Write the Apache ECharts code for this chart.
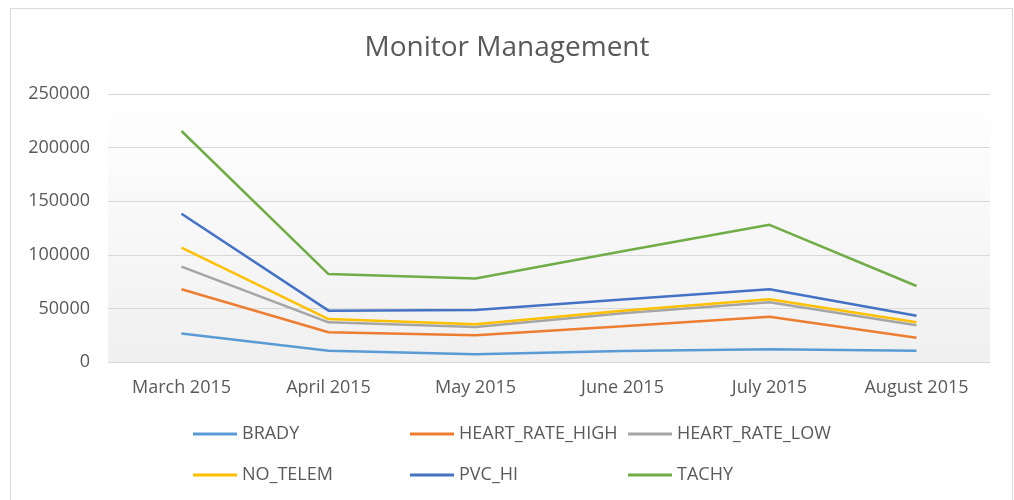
<!DOCTYPE html>
<html>
<head>
<meta charset="utf-8">
<script src="https://cdn.jsdelivr.net/npm/echarts@6/dist/echarts.min.js"></script>
<style>
html,body{margin:0;padding:0;background:#fff;}
#c{width:1014px;height:500px;}
</style>
</head>
<body>
<div id="c"></div>
<script>
const categories = ['March 2015','April 2015','May 2015','June 2015','July 2015','August 2015'];
const yTicks = [0, 50000, 100000, 150000, 200000, 250000];
const BRADY = [26500, 10600, 7300, 10200, 11800, 10400];
const HEART_RATE_HIGH = [67800, 27700, 25000, 33300, 42300, 22700];
const HEART_RATE_LOW = [89000, 37000, 32600, 45500, 55700, 34200];
const NO_TELEM = [106600, 40100, 35200, 47700, 58500, 37000];
const PVC_HI = [138300, 47900, 48500, 58300, 67800, 43200];
const TACHY = [215500, 82000, 77800, 103400, 128000, 70900];

const seriesNames = ['BRADY','HEART_RATE_HIGH','HEART_RATE_LOW','NO_TELEM','PVC_HI','TACHY'];
const seriesData = [BRADY, HEART_RATE_HIGH, HEART_RATE_LOW, NO_TELEM, PVC_HI, TACHY];
const colors = ['#5B9BD5','#ED7D31','#A5A5A5','#FFC000','#4472C4','#70AD47'];

const font = '"Open Sans", sans-serif';
const textColor = '#595959';

const chart = echarts.init(document.getElementById('c'));

function legendCol(names, left) {
  return {
    orient: 'vertical',
    left: left,
    top: 424,
    padding: 0,
    itemGap: 21,
    itemWidth: 44,
    itemHeight: 3,
    icon: 'rect',
    data: names,
    textStyle: {color: textColor, fontSize: 18, lineHeight: 20, fontFamily: font, padding: [0,0,0,0]}
  };
}

chart.setOption({
  animation: false,
  color: colors,
  title: {
    text: 'Monitor Management',
    left: 'center',
    top: 34,
    padding: 0,
    textStyle: {color: textColor, fontSize: 28, fontWeight: 'normal', fontFamily: font}
  },
  graphic: [{
    type: 'rect',
    shape: {x: 10.5, y: 8.5, width: 1002, height: 500},
    style: {fill: 'none', stroke: '#d9d9d9', lineWidth: 1},
    silent: true
  }],
  grid: {
    left: 108, right: 24, top: 94, bottom: 138,
    show: true,
    borderWidth: 0,
    backgroundColor: {
      type: 'linear', x: 0, y: 0, x2: 0, y2: 1,
      colorStops: [{offset: 0, color: '#ffffff'}, {offset: 1, color: '#f0f0f0'}]
    }
  },
  legend: [
    legendCol([seriesNames[0], seriesNames[3]], 193),
    legendCol([seriesNames[1], seriesNames[4]], 410),
    legendCol([seriesNames[2], seriesNames[5]], 628)
  ],
  xAxis: {
    type: 'category',
    data: categories,
    boundaryGap: true,
    axisLine: {show: true, lineStyle: {color: '#d9d9d9', width: 1}},
    axisTick: {show: false},
    axisLabel: {color: textColor, fontSize: 18, fontFamily: font, margin: 17}
  },
  yAxis: {
    type: 'value',
    min: yTicks[0],
    max: yTicks[yTicks.length - 1],
    interval: yTicks[1] - yTicks[0],
    axisLine: {show: false},
    axisTick: {show: false},
    splitLine: {lineStyle: {color: '#d9d9d9', width: 1}},
    axisLabel: {color: textColor, fontSize: 18, fontFamily: font, margin: 18, formatter: v => String(v)}
  },
  series: seriesNames.map((n, i) => ({
    name: n,
    type: 'line',
    data: seriesData[i],
    symbol: 'none',
    lineStyle: {width: 2.5, color: colors[i]},
    itemStyle: {color: colors[i]}
  }))
});
</script>
</body>
</html>
